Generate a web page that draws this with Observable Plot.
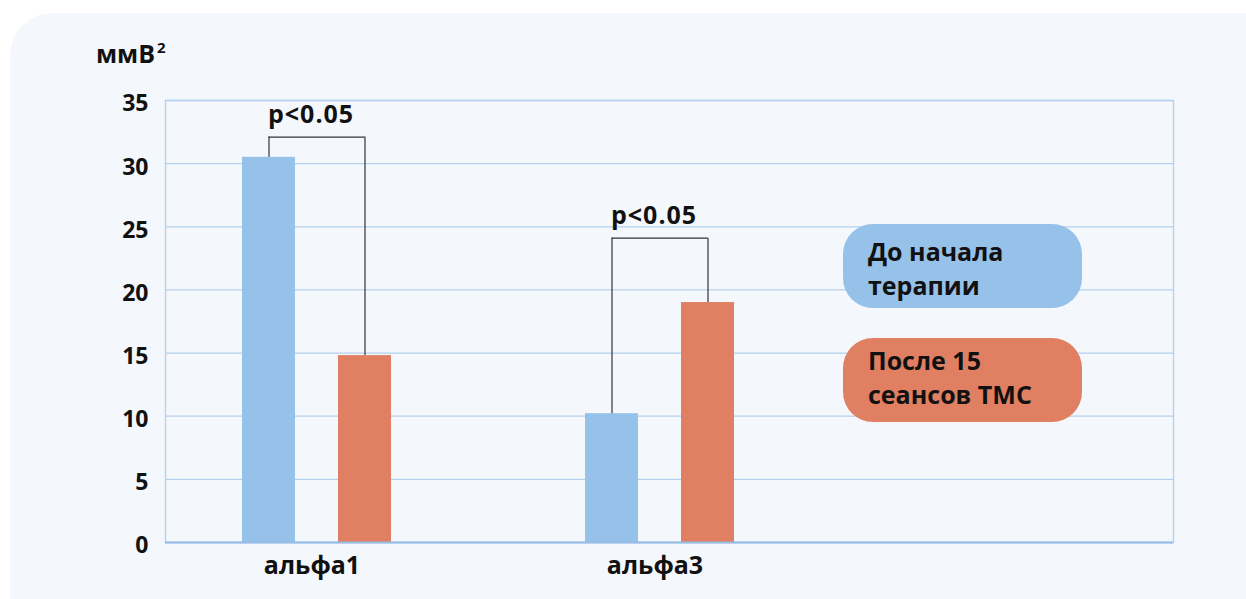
<!DOCTYPE html>
<html><head><meta charset="utf-8">
<script src="https://cdn.jsdelivr.net/npm/d3@7"></script>
<script src="https://cdn.jsdelivr.net/npm/@observablehq/plot@0.6"></script>
<style>
body{margin:0;background:#fff;width:1246px;height:599px;overflow:hidden;font-family:"Open Sans",sans-serif;}
#panel{position:absolute;left:10px;top:13px;width:1300px;height:700px;background:#f4f7fc;border-radius:42px;}
#chart{position:absolute;left:0;top:0;}
#unit{position:absolute;left:96px;top:35.6px;font-weight:700;font-size:25px;line-height:normal;color:#111;white-space:nowrap;}
#unit sup{font-size:15px;vertical-align:baseline;position:relative;top:-10px;margin-left:2px;}
.leg{position:absolute;left:843px;width:239px;height:84px;border-radius:30px;box-sizing:border-box;padding-left:25px;font-weight:700;font-size:25px;line-height:33.5px;color:#111;white-space:nowrap;}
</style></head><body>
<div id="panel"></div>
<div id="chart"></div>
<div id="unit">ммВ<sup>2</sup></div>
<div class="leg" id="leg0" style="top:224px;padding-top:11.2px;"></div>
<div class="leg" id="leg1" style="top:338px;padding-top:6.3px;"></div>
<script>
const categories = ["альфа1", "альфа3"];
const legendLines = [["До начала", "терапии"], ["После 15", "сеансов ТМС"]];
const before = [30.5, 10.2];
const after = [14.8, 19.0];
const bracketLevel = [32.1, 24.1];
const pLabels = ["p<0.05", "p<0.05"];
const yTicks = [0, 5, 10, 15, 20, 25, 30, 35];
const colors = ["#96c1e8", "#e07f61"];

const rows = categories.map((c, i) => ({cat: c, before: before[i], after: after[i], level: bracketLevel[i], p: pLabels[i]}));

const grid = "#b3d1ee";
const chart = Plot.plot({
  width: 1246, height: 599,
  marginLeft: 165, marginRight: 73, marginTop: 100, marginBottom: 57,
  style: {fontFamily: "'Open Sans', sans-serif", fontSize: "24px", fontWeight: 700, background: "transparent", color: "#111", overflow: "visible"},
  x: {type: "band", domain: categories, range: [144.5, 830.5], padding: 0},
  y: {domain: [0, 35]},
  marks: [
    Plot.gridY(yTicks, {stroke: grid, strokeOpacity: 1, strokeWidth: 1.3}),
    Plot.frame({stroke: grid, strokeWidth: 1.3}),
    Plot.barY(rows, {x: "cat", y: "before", fill: colors[0], insetLeft: 97, insetRight: 193}),
    Plot.barY(rows, {x: "cat", y: "after", fill: colors[1], insetLeft: 193, insetRight: 97}),
    Plot.ruleY([0], {stroke: "#96bde3", strokeWidth: 2}),
    Plot.ruleX(rows, {x: "cat", y1: "before", y2: "level", dx: -48, stroke: "#333", strokeWidth: 1.2}),
    Plot.ruleX(rows, {x: "cat", y1: "after", y2: "level", dx: 48, stroke: "#333", strokeWidth: 1.2}),
    Plot.tickY(rows, {x: "cat", y: "level", insetLeft: 123.5, insetRight: 123.5, stroke: "#333", strokeWidth: 1.2}),
    Plot.text(rows, {x: "cat", y: "level", text: "p", dx: -49, dy: -14, lineAnchor: "bottom", textAnchor: "start", fontSize: 25, fontWeight: 700, fill: "#111"}),
    Plot.axisY(yTicks, {tickSize: 0, tickPadding: 17, dy: 3.5, fontSize: 23, fontWeight: 700, fill: "#111", label: null}),
    Plot.axisX({tickSize: 0, tickPadding: 14, dx: -5, fontSize: 25, fontWeight: 700, fill: "#111", label: null})
  ]
});
document.getElementById("chart").appendChild(chart);
chart.querySelectorAll("text").forEach(t => { if (t.textContent.startsWith("p<")) t.setAttribute("letter-spacing", "1"); });

legendLines.forEach((lines, i) => {
  const el = document.getElementById("leg" + i);
  el.style.background = colors[i];
  el.innerHTML = lines.join("<br>");
});
</script>
</body></html>
